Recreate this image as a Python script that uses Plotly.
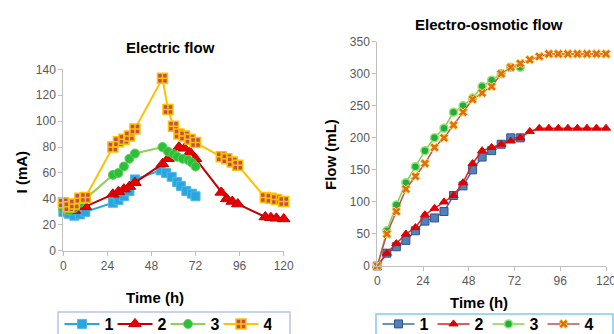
import plotly.graph_objects as go

# ---------------- Data: Electric flow (left) ----------------
e_t1 = [0, 3, 6, 9, 12, 27, 30, 33, 36, 39, 53, 56, 59, 62, 64, 67, 70, 72]
e_i1 = [30, 28.5, 27, 28, 30, 37, 39, 42, 46, 55, 62, 60, 57, 53, 50, 46, 44, 42]
e_t2 = [6, 12, 27, 30, 33, 36, 39, 54, 57, 63, 66, 69, 72, 86, 89, 92, 95, 110, 113, 116, 120]
e_i2 = [31, 34, 43.5, 45.5, 47.5, 49.5, 52.5, 67, 71, 80, 79, 76, 71, 45, 40, 38, 36, 26, 25.5, 25, 24.5]
e_t3 = [0, 3, 6, 9, 12, 27, 30, 33, 36, 39, 54, 57, 60, 62, 65, 68, 70, 72]
e_i3 = [32, 31, 33, 37, 40, 58.5, 60, 65, 71, 75, 80, 76.5, 74.5, 72.5, 71, 70, 68, 65]
e_t4 = [0, 3, 6, 9, 12, 27, 30, 33, 36, 39, 54, 57, 60, 63, 66, 69, 72, 86, 89, 92, 95, 110, 113, 116, 120]
e_i4 = [37, 34, 36, 40.5, 41, 80, 84, 86, 88.5, 94, 133, 109, 96, 90, 88.5, 86, 83.5,
        72.5, 71, 68.5, 66, 41, 40.5, 39.5, 38]

# ---------------- Data: Electro-osmotic flow (right) ----------------
o_t_short = [0, 5, 10, 15, 20, 25, 30, 35, 40, 45, 50, 55, 60, 65, 70, 75]
o_t_long = [0, 5, 10, 15, 20, 25, 30, 35, 40, 45, 50, 55, 60, 65, 70, 75,
            80, 85, 90, 95, 100, 105, 110, 115, 120]
o_f1 = [0, 20, 30, 40, 55, 70, 75, 85, 110, 125, 150, 170, 180, 190, 200, 200]
o_f2 = [0, 20, 35, 50, 60, 80, 90, 100, 110, 130, 160, 180, 185, 190, 195, 200,
        210, 215, 215, 215, 215, 215, 215, 215, 215]
o_f3 = [0, 55, 95, 130, 155, 180, 200, 215, 240, 250, 262, 280, 290, 300, 310, 310]
o_f4 = [0, 50, 85, 120, 140, 160, 185, 200, 220, 240, 260, 270, 280, 300, 310, 316,
        322, 327, 331, 331, 331, 331, 331, 331, 331]

series_names = ["1", "2", "3", "4"]
x_ticks = [0, 24, 48, 72, 96, 120]
left_y_ticks = [0, 20, 40, 60, 80, 100, 120, 140]
right_y_ticks = [0, 50, 100, 150, 200, 250, 300, 350]

W, H = 614, 334
FONT = "Liberation Sans, Arial, sans-serif"

fig = go.Figure()

# Left traces
fig.add_trace(go.Scatter(x=e_t1, y=e_i1, name=series_names[0], mode="lines+markers",
                         line=dict(color="#2aa6df", width=2),
                         marker=dict(symbol="square", size=9, color="#2aa6df",
                                     line=dict(color="#4fb8e8", width=1)),
                         cliponaxis=False, legend="legend", xaxis="x", yaxis="y"))
fig.add_trace(go.Scatter(x=e_t2, y=e_i2, name=series_names[1], mode="lines+markers",
                         line=dict(color="#c00000", width=2),
                         marker=dict(symbol="triangle-up", size=11, color="#e80000",
                                     line=dict(color="#c00000", width=1)),
                         cliponaxis=False, legend="legend", xaxis="x", yaxis="y"))
fig.add_trace(go.Scatter(x=e_t3, y=e_i3, name=series_names[2], mode="lines+markers",
                         line=dict(color="#92d050", width=2),
                         marker=dict(symbol="circle", size=9, color="#2cbf3a",
                                     line=dict(color="#5fd05a", width=1)),
                         cliponaxis=False, legend="legend", xaxis="x", yaxis="y"))
fig.add_trace(go.Scatter(x=e_t4, y=e_i4, name=series_names[3], mode="lines+markers",
                         line=dict(color="#ffc000", width=2),
                         marker=dict(symbol="square-cross", size=10, color="#c0504d",
                                     line=dict(color="#ffc000", width=1.5)),
                         cliponaxis=False, legend="legend", xaxis="x", yaxis="y"))

# Right traces
fig.add_trace(go.Scatter(x=o_t_short, y=o_f1, name=series_names[0], mode="lines+markers",
                         line=dict(color="#3d6aa8", width=1.5),
                         marker=dict(symbol="square", size=8, color="#4f81bd",
                                     line=dict(color="#2f5589", width=1)),
                         cliponaxis=False, legend="legend2", xaxis="x2", yaxis="y2"))
fig.add_trace(go.Scatter(x=o_t_long, y=o_f2, name=series_names[1], mode="lines+markers",
                         line=dict(color="#e02020", width=1.5),
                         marker=dict(symbol="triangle-up", size=8, color="#e00000",
                                     line=dict(color="#e00000", width=1)),
                         cliponaxis=False, legend="legend2", xaxis="x2", yaxis="y2"))
fig.add_trace(go.Scatter(x=o_t_short, y=o_f3, name=series_names[2], mode="lines+markers",
                         line=dict(color="#7fd05a", width=1.5),
                         marker=dict(symbol="circle", size=8, color="#1fb03a",
                                     line=dict(color="#9be07a", width=1.5)),
                         cliponaxis=False, legend="legend2", xaxis="x2", yaxis="y2"))
fig.add_trace(go.Scatter(x=o_t_long, y=o_f4, name=series_names[3], mode="lines+markers",
                         line=dict(color="#c0504d", width=1.5),
                         marker=dict(symbol="x", size=8, color="#e46c0a",
                                     line=dict(color="#ffd966", width=1)),
                         cliponaxis=False, legend="legend2", xaxis="x2", yaxis="y2"))

tickfont = dict(family=FONT, size=12, color="#595959")
axis_common = dict(showgrid=False, zeroline=False, showline=True, linecolor="#bfbfbf",
                   linewidth=1, ticks="outside", tickcolor="#bfbfbf", ticklen=4,
                   tickfont=tickfont, fixedrange=True, ticklabeloverflow="allow")

fig.update_layout(
    width=W, height=H,
    margin=dict(l=0, r=0, t=0, b=0, autoexpand=False),
    paper_bgcolor="white", plot_bgcolor="white",
    font=dict(family=FONT),
    xaxis=dict(domain=[63.3 / W, 283.7 / W], range=[0, 120], tickvals=x_ticks,
               anchor="y", **axis_common),
    yaxis=dict(domain=[(H - 250.7) / H, (H - 69.3) / H], range=[0, 140],
               tickvals=left_y_ticks, anchor="x", **axis_common),
    xaxis2=dict(domain=[377.3 / W, 606 / W], range=[0, 120], tickvals=x_ticks,
                anchor="y2", **axis_common),
    yaxis2=dict(domain=[(H - 266) / H, (H - 41.7) / H], range=[0, 350],
                tickvals=right_y_ticks, anchor="x2", **axis_common),
    legend=dict(orientation="h", x=59.5 / W, y=(H - 307) / H, xanchor="left", yanchor="top",
                borderwidth=0, bgcolor="rgba(0,0,0,0)",
                font=dict(family=FONT, size=16, color="black", weight="bold"),
                entrywidth=3, entrywidthmode="pixels", itemwidth=35),
    legend2=dict(orientation="h", x=377.5 / W, y=(H - 307) / H, xanchor="left", yanchor="top",
                 borderwidth=0, bgcolor="rgba(0,0,0,0)",
                 font=dict(family=FONT, size=16, color="black", weight="bold"),
                 entrywidth=8, entrywidthmode="pixels", itemwidth=32),
    showlegend=True,
    shapes=[
        dict(type="rect", xref="paper", yref="paper", x0=58 / W, x1=290 / W,
             y0=(H - 348) / H, y1=(H - 312) / H, line=dict(color="#b4c7e7", width=1.5),
             fillcolor="rgba(0,0,0,0)", layer="below"),
        dict(type="rect", xref="paper", yref="paper", x0=376 / W, x1=613 / W,
             y0=(H - 348) / H, y1=(H - 314) / H, line=dict(color="#7fcdf0", width=1.5),
             fillcolor="rgba(0,0,0,0)", layer="below"),
    ],
)

def ann(text, x, y, size, angle=0):
    fig.add_annotation(text=text, x=x / W, y=(H - y) / H, xref="paper", yref="paper",
                       showarrow=False, textangle=angle, xanchor="center", yanchor="middle",
                       font=dict(family=FONT, size=size, color="black", weight="bold"))

ann("Electric flow", 170.7, 47.3, 15)
ann("Electro-osmotic flow", 488.7, 25, 15)
ann("I (mA)", 21.7, 171.7, 15, -90)
ann("Flow (mL)", 330, 155, 15, -90)
ann("Time (h)", 155, 297, 15)
ann("Time (h)", 479, 302, 15)

fig.write_html("out.html",
               config={"displayModeBar": False},
               post_script="document.body.style.margin='0px';"
                           "document.documentElement.style.margin='0px';")
